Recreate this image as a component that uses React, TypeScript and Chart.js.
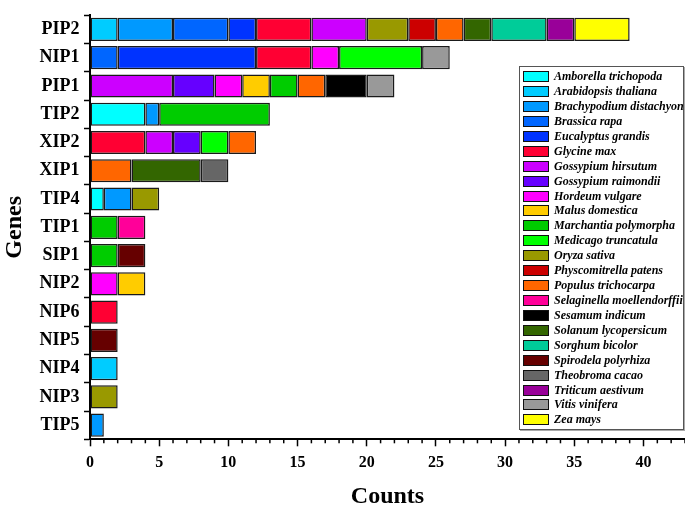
import React, { useEffect, useRef } from 'react';
import { Chart, registerables } from 'chart.js';
Chart.register(...registerables);

const genes = ['PIP2', 'NIP1', 'PIP1', 'TIP2', 'XIP2', 'XIP1', 'TIP4', 'TIP1', 'SIP1', 'NIP2', 'NIP6', 'NIP5', 'NIP4', 'NIP3', 'TIP5'];

// values per gene, in the order of `genes`
const amborella      = [0, 0, 0, 4, 0, 0, 1, 0, 0, 0, 0, 0, 0, 0, 0];
const arabidopsis    = [2, 0, 0, 0, 0, 0, 0, 0, 0, 0, 0, 0, 2, 0, 0];
const brachypodium   = [4, 0, 0, 1, 0, 0, 2, 0, 0, 0, 0, 0, 0, 0, 1];
const brassica       = [4, 2, 0, 0, 0, 0, 0, 0, 0, 0, 0, 0, 0, 0, 0];
const eucalyptus     = [2, 10, 0, 0, 0, 0, 0, 0, 0, 0, 0, 0, 0, 0, 0];
const glycine        = [4, 4, 0, 0, 4, 0, 0, 0, 0, 0, 2, 0, 0, 0, 0];
const gossHirsutum   = [4, 0, 6, 0, 2, 0, 0, 0, 0, 0, 0, 0, 0, 0, 0];
const gossRaimondii  = [0, 0, 3, 0, 2, 0, 0, 0, 0, 0, 0, 0, 0, 0, 0];
const hordeum        = [0, 2, 2, 0, 0, 0, 0, 0, 0, 2, 0, 0, 0, 0, 0];
const malus          = [0, 0, 2, 0, 0, 0, 0, 0, 0, 2, 0, 0, 0, 0, 0];
const marchantia     = [0, 0, 2, 8, 0, 0, 0, 2, 2, 0, 0, 0, 0, 0, 0];
const medicago       = [0, 6, 0, 0, 2, 0, 0, 0, 0, 0, 0, 0, 0, 0, 0];
const oryza          = [3, 0, 0, 0, 0, 0, 2, 0, 0, 0, 0, 0, 0, 2, 0];
const physcomitrella = [2, 0, 0, 0, 0, 0, 0, 0, 0, 0, 0, 0, 0, 0, 0];
const populus        = [2, 0, 2, 0, 2, 3, 0, 0, 0, 0, 0, 0, 0, 0, 0];
const selaginella    = [0, 0, 0, 0, 0, 0, 0, 2, 0, 0, 0, 0, 0, 0, 0];
const sesamum        = [0, 0, 3, 0, 0, 0, 0, 0, 0, 0, 0, 0, 0, 0, 0];
const solanum        = [2, 0, 0, 0, 0, 5, 0, 0, 0, 0, 0, 0, 0, 0, 0];
const sorghum        = [4, 0, 0, 0, 0, 0, 0, 0, 0, 0, 0, 0, 0, 0, 0];
const spirodela      = [0, 0, 0, 0, 0, 0, 0, 0, 2, 0, 0, 2, 0, 0, 0];
const theobroma      = [0, 0, 0, 0, 0, 2, 0, 0, 0, 0, 0, 0, 0, 0, 0];
const triticum       = [2, 0, 0, 0, 0, 0, 0, 0, 0, 0, 0, 0, 0, 0, 0];
const vitis          = [0, 2, 2, 0, 0, 0, 0, 0, 0, 0, 0, 0, 0, 0, 0];
const zea            = [4, 0, 0, 0, 0, 0, 0, 0, 0, 0, 0, 0, 0, 0, 0];

const species = [
  'Amborella trichopoda', 'Arabidopsis thaliana', 'Brachypodium distachyon', 'Brassica rapa',
  'Eucalyptus grandis', 'Glycine max', 'Gossypium hirsutum', 'Gossypium raimondii',
  'Hordeum vulgare', 'Malus domestica', 'Marchantia polymorpha', 'Medicago truncatula',
  'Oryza sativa', 'Physcomitrella patens', 'Populus trichocarpa', 'Selaginella moellendorffii',
  'Sesamum indicum', 'Solanum lycopersicum', 'Sorghum bicolor', 'Spirodela polyrhiza',
  'Theobroma cacao', 'Triticum aestivum', 'Vitis vinifera', 'Zea mays',
];
const seriesValues = [
  amborella, arabidopsis, brachypodium, brassica, eucalyptus, glycine, gossHirsutum, gossRaimondii,
  hordeum, malus, marchantia, medicago, oryza, physcomitrella, populus, selaginella,
  sesamum, solanum, sorghum, spirodela, theobroma, triticum, vitis, zea,
];
const colors = [
  '#00FFFF', '#00CCFF', '#0099FF', '#0066FF', '#0033FF', '#FF0033', '#CC00FF', '#6600FF',
  '#FF00FF', '#FFCC00', '#00CC00', '#00FF00', '#999900', '#CC0000', '#FF6600', '#FF0099',
  '#000000', '#336600', '#00CC99', '#660000', '#666666', '#990099', '#999999', '#FFFF00',
];

const xMax = 43;
const FONT = '"Liberation Serif", "Times New Roman", serif';

const minorTicks = {
  id: 'minorTicks',
  afterDraw(chart: any) {
    const sx = chart.scales.x;
    const ctx = chart.ctx;
    const y0 = chart.chartArea.bottom;
    ctx.save();
    ctx.strokeStyle = '#000';
    ctx.lineWidth = 1.5;
    for (let v = 0; v <= xMax; v++) {
      if (v % 5 === 0) continue;
      const x = sx.getPixelForValue(v);
      ctx.beginPath();
      ctx.moveTo(x, y0);
      ctx.lineTo(x, y0 + 4);
      ctx.stroke();
    }
    ctx.restore();
  },
};

export default function App() {
  const ref = useRef<HTMLCanvasElement>(null);
  useEffect(() => {
    if (!ref.current) return;
    const chart = new Chart(ref.current, {
      type: 'bar',
      data: {
        labels: genes,
        datasets: species.map((name, i) => ({
          label: name,
          data: seriesValues[i].map((v) => (v === 0 ? null : v)),
          backgroundColor: colors[i],
          borderColor: '#1a1a1a',
          borderWidth: 1.5,
          borderSkipped: false,
          barPercentage: 0.82,
          categoryPercentage: 1,
        })),
      },
      options: {
        indexAxis: 'y',
        animation: false,
        responsive: true,
        maintainAspectRatio: false,
        layout: { padding: { top: 2, right: 0, left: 0, bottom: 0 } },
        plugins: { legend: { display: false }, tooltip: { enabled: false } },
        scales: {
          x: {
            stacked: true,
            min: 0,
            max: xMax,
            afterFit: (s: any) => { s.height = 67.7; },
            ticks: {
              stepSize: 5,
              includeBounds: false,
              color: '#000',
              padding: 7,
              font: { family: FONT, size: 16, weight: 'bold' },
            },
            grid: { drawOnChartArea: false, tickLength: 7, tickColor: '#000', tickWidth: 1.5 },
            border: { display: true, color: '#000', width: 2 },
            title: {
              display: true,
              text: 'Counts',
              color: '#000',
              padding: { top: 0, bottom: 0 },
              font: { family: FONT, size: 24, weight: 'bold', lineHeight: 0.85 },
            },
          },
          y: {
            stacked: true,
            afterFit: (s: any) => { s.width = 90; },
            ticks: {
              color: '#000',
              padding: 4.5,
              font: { family: FONT, size: 18, weight: 'bold' },
            },
            grid: { drawOnChartArea: false, offset: true, tickLength: 6, tickColor: '#000', tickWidth: 1.5 },
            border: { display: true, color: '#000', width: 2 },
            title: {
              display: true,
              text: 'Genes',
              color: '#000',
              padding: { top: 0, bottom: 0 },
              font: { family: FONT, size: 24, weight: 'bold' },
            },
          },
        },
      },
      plugins: [minorTicks],
    });
    return () => chart.destroy();
  }, []);

  return (
    <div style={{ position: 'fixed', left: 0, top: 0, width: 685, height: 507, background: '#fff' }}>
      <canvas ref={ref} />
      <div
        style={{
          position: 'absolute',
          left: 519,
          top: 66,
          width: 163,
          height: 360,
          border: '1px solid #555',
          boxShadow: '1px 1px 0 #aaa',
          background: '#fff',
          paddingTop: 2.2,
          boxSizing: 'content-box',
          fontFamily: FONT,
          fontStyle: 'italic',
          fontWeight: 'bold',
          fontSize: 12,
          color: '#000',
        }}
      >
        {species.map((name, i) => (
          <div key={name} style={{ height: 14.93, display: 'flex', alignItems: 'center', whiteSpace: 'nowrap' }}>
            <span
              style={{
                display: 'inline-block',
                width: 24,
                height: 9,
                marginLeft: 3,
                marginRight: 5,
                background: colors[i],
                border: '1px solid #111',
                flex: 'none',
              }}
            />
            <span>{name}</span>
          </div>
        ))}
      </div>
    </div>
  );
}
